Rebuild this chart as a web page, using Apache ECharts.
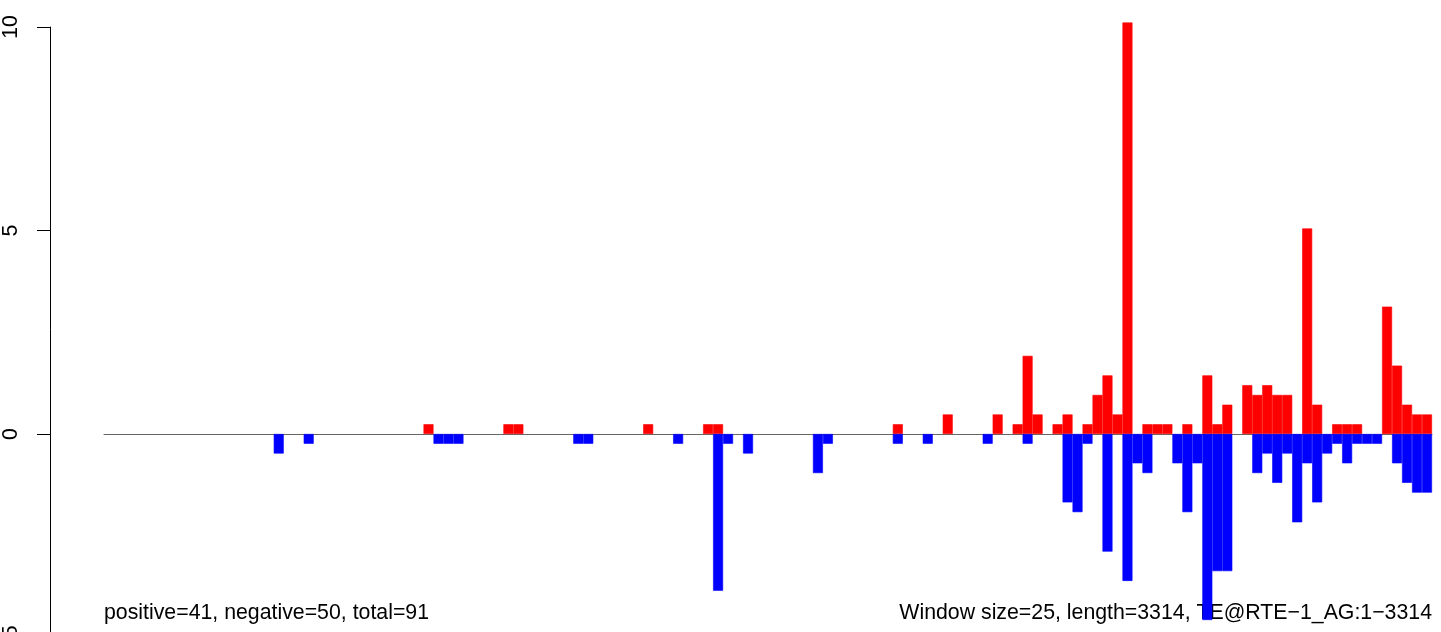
<!DOCTYPE html>
<html>
<head>
<meta charset="utf-8">
<script src="https://cdn.jsdelivr.net/npm/echarts@6/dist/echarts.min.js"></script>
<style>
html,body{margin:0;padding:0;background:#fff;}
#chart{width:1441px;height:632px;}
</style>
</head>
<body>
<div id="chart"></div>
<script>
// window index 0..132 (window size 25, length 3314)
const windowCount = 133;
const categories = Array.from({length: windowCount}, (_, i) => i + 1);

// positive (sense) signal per window: [windowIndex, value]
const positiveValues = [
  [32,0.24],[40,0.24],[41,0.24],[54,0.24],[60,0.24],[61,0.24],[79,0.24],[84,0.48],
  [89,0.48],[91,0.24],[92,1.92],[93,0.48],[95,0.24],[96,0.48],[98,0.24],[99,0.96],
  [100,1.44],[101,0.48],[102,10.11],[104,0.24],[105,0.24],[106,0.24],[108,0.24],
  [110,1.44],[111,0.24],[112,0.72],[114,1.2],[115,0.96],[116,1.2],[117,0.96],[118,0.96],
  [120,5.05],[121,0.72],[123,0.24],[124,0.24],[125,0.24],[128,3.13],[129,1.68],
  [130,0.72],[131,0.48],[132,0.48]
];

// negative (antisense) signal per window: [windowIndex, value]
const negativeValues = [
  [17,-0.48],[20,-0.24],[33,-0.24],[34,-0.24],[35,-0.24],[47,-0.24],[48,-0.24],[57,-0.24],
  [61,-3.85],[62,-0.24],[64,-0.48],[71,-0.96],[72,-0.24],[79,-0.24],[82,-0.24],[88,-0.24],
  [92,-0.24],[96,-1.68],[97,-1.92],[98,-0.24],[100,-2.89],[102,-3.61],[103,-0.72],
  [104,-0.96],[107,-0.72],[108,-1.92],[109,-0.72],[110,-4.57],[111,-3.37],[112,-3.37],
  [115,-0.96],[116,-0.48],[117,-1.2],[118,-0.48],[119,-2.17],[120,-0.72],[121,-1.68],
  [122,-0.48],[123,-0.24],[124,-0.72],[125,-0.24],[126,-0.24],[127,-0.24],[129,-0.72],
  [130,-1.2],[131,-1.44],[132,-1.44]
];

const yTicks = [-5, 0, 5, 10];
const leftNote = 'positive=41, negative=50, total=91';
const rightNote = 'Window size=25, length=3314, TE@RTE\u22121_AG:1\u22123314';

function toSeries(pairs) {
  const arr = new Array(windowCount).fill(null);
  pairs.forEach(([i, v]) => { arr[i] = v; });
  return arr;
}

const FONT = '"Liberation Sans", Arial, Helvetica, sans-serif';
const FS = 21.3;
const chart = echarts.init(document.getElementById('chart'), null, {renderer: 'canvas'});
chart.setOption({
  animation: false,
  backgroundColor: '#ffffff',
  grid: {left: 104, right: 9, top: 27, bottom: -5.5, containLabel: false, outerBoundsMode: 'none'},
  xAxis: {
    type: 'category',
    data: categories,
    boundaryGap: true,
    axisLine: {show: true, onZero: true, lineStyle: {color: '#666666', width: 1}},
    axisTick: {show: false},
    axisLabel: {show: false},
    splitLine: {show: false}
  },
  yAxis: {
    type: 'value',
    min: yTicks[0],
    max: yTicks[yTicks.length - 1],
    interval: 5,
    offset: 54,
    axisLine: {show: true, onZero: false, lineStyle: {color: '#000000', width: 1}},
    axisTick: {show: true, length: 13, lineStyle: {color: '#000000', width: 1}},
    axisLabel: {
      show: true, rotate: 90, margin: 28, color: '#000000',
      fontFamily: FONT, fontSize: FS,
      formatter: v => String(v).replace('-', '\u2212')
    },
    splitLine: {show: false}
  },
  series: [
    {
      type: 'bar', name: 'positive', data: toSeries(positiveValues),
      barWidth: '100%', barGap: '-100%', barCategoryGap: '0%',
      itemStyle: {color: '#FF0000', borderColor: '#FF0000', borderWidth: 0.6}, clip: false, z: 3
    },
    {
      type: 'bar', name: 'negative', data: toSeries(negativeValues),
      barWidth: '100%', barGap: '-100%', barCategoryGap: '0%',
      itemStyle: {color: '#0000FF', borderColor: '#0000FF', borderWidth: 0.6}, clip: false, z: 3
    }
  ],
  graphic: [
    {type: 'text', left: 104, top: 603, z: 0, style: {text: leftNote, font: FS + 'px ' + FONT, fill: '#000'}},
    {type: 'text', right: 9, top: 603, z: 0, style: {text: rightNote, font: FS + 'px ' + FONT, fill: '#000'}}
  ]
});
</script>
</body>
</html>
